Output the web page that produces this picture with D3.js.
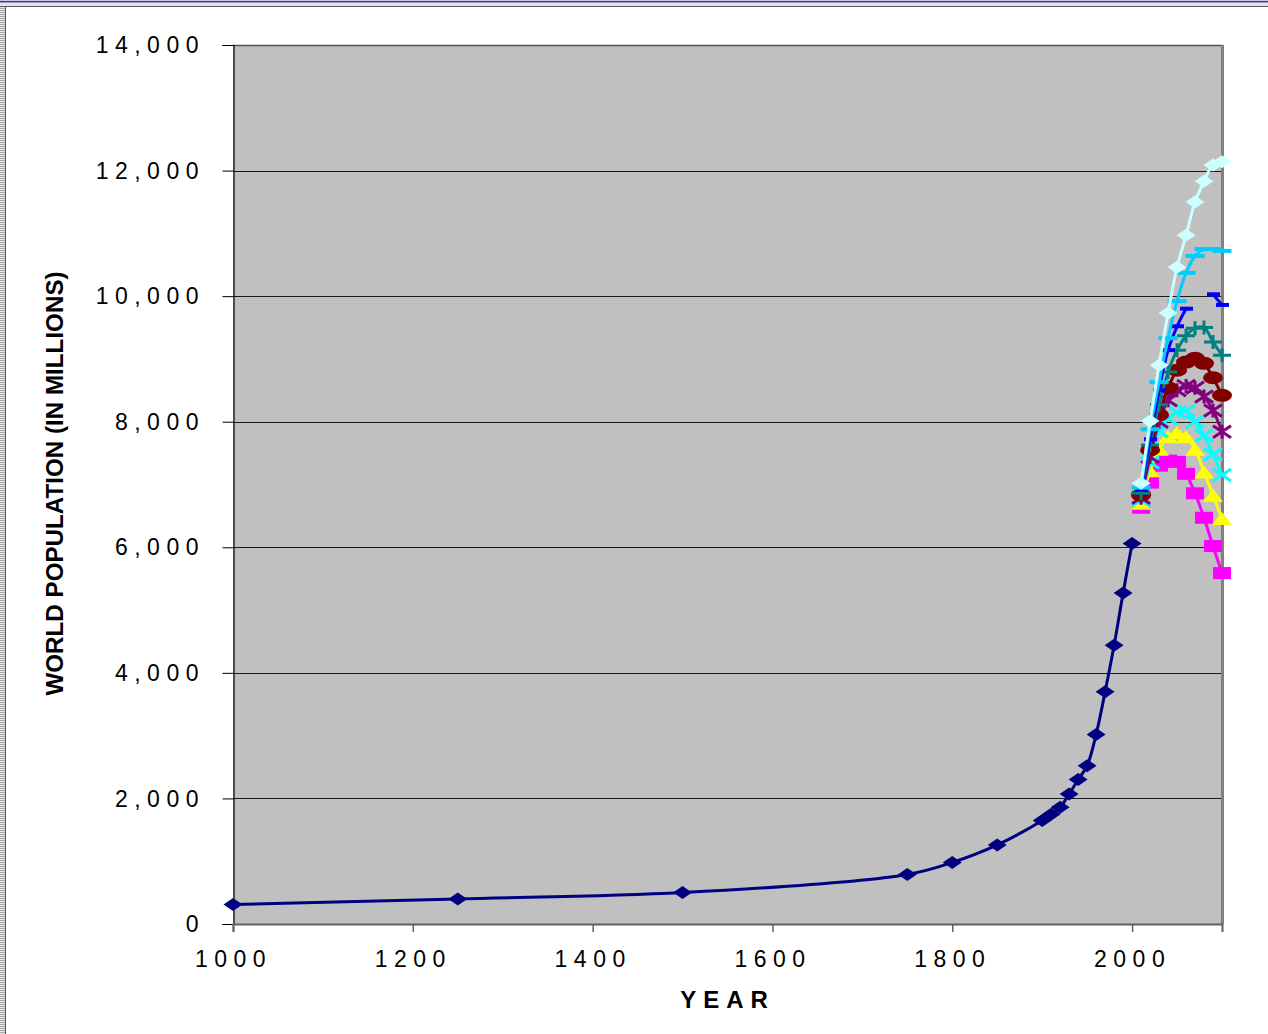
<!DOCTYPE html>
<html>
<head>
<meta charset="utf-8">
<script src="https://cdn.jsdelivr.net/npm/d3@7"></script>
<style>
  html, body { margin: 0; padding: 0; background: #ffffff; }
  svg { display: block; }
</style>
</head>
<body>
<svg id="chart" width="1268" height="1034"></svg>
<script>
// ---------- DATA ----------
const histYears = [1000, 1250, 1500, 1750, 1800, 1850, 1900, 1910, 1920, 1930, 1940, 1950, 1960, 1970, 1980, 1990, 2000];
const histPop   = [310, 400, 500, 790, 980, 1260, 1650, 1750, 1860, 2070, 2300, 2520, 3020, 3700, 4440, 5270, 6060];

const projYears = [2010, 2020, 2030, 2040, 2050, 2060, 2070, 2080, 2090, 2100];
const projMagenta   = [6630, 7030, 7300, 7380, 7360, 7170, 6860, 6470, 6020, 5590];
const projYellow    = [6700, 7220, 7560, 7760, 7830, 7760, 7560, 7200, 6830, 6460];
const projCyan      = [6750, 7350, 7850, 8050, 8150, 8170, 8000, 7780, 7480, 7150];
const projPurple    = [6790, 7440, 8000, 8340, 8500, 8570, 8540, 8400, 8180, 7840];
const projDarkRed   = [6830, 7550, 8110, 8540, 8820, 8950, 9010, 8930, 8700, 8420];
const projTeal      = [6860, 7630, 8270, 8790, 9140, 9370, 9490, 9500, 9270, 9060];
const projBlue      = [6920, 7720, 8500, 9140, 9520, 9800, null, null, 10030, 9860];
const projSkyBlue   = [6950, 7880, 8630, 9330, 9920, 10370, 10640, 10750, 10750, 10720];
const projLightCyan = [7020, 8010, 8900, 9730, 10460, 10970, 11500, 11830, 12090, 12140];

const xTicks = [1000, 1200, 1400, 1600, 1800, 2000];
const yTicks = [0, 2000, 4000, 6000, 8000, 10000, 12000, 14000];
const xTitle = "YEAR";
const yTitle = "WORLD POPULATION (IN MILLIONS)";

// ---------- SERIES (draw order) ----------
const series = [
  { years: histYears, values: histPop,        color: "#000080", marker: "diamond" },
  { years: projYears, values: projMagenta,    color: "#FF00FF", marker: "square" },
  { years: projYears, values: projYellow,     color: "#FFFF00", marker: "triangle" },
  { years: projYears, values: projCyan,       color: "#00FFFF", marker: "x" },
  { years: projYears, values: projPurple,     color: "#800080", marker: "star" },
  { years: projYears, values: projDarkRed,    color: "#800000", marker: "circle" },
  { years: projYears, values: projTeal,       color: "#008080", marker: "plus" },
  { years: projYears, values: projBlue,       color: "#0000FF", marker: "dash" },
  { years: projYears, values: projSkyBlue,    color: "#00CCFF", marker: "longbar" },
  { years: projYears, values: projLightCyan,  color: "#CCFFFF", marker: "diamond" }
];

// ---------- LAYOUT ----------
const svg = d3.select("#chart");
const W = 1268, H = 1034;
const plot = { left: 233, right: 1222, top: 45, bottom: 924 };

const x = d3.scaleLinear().domain([1000, 2100]).range([plot.left, plot.right]);
const y = d3.scaleLinear().domain([0, 14000]).range([plot.bottom, plot.top]);

const FONT = "'Liberation Sans', Arial, Helvetica, sans-serif";

// window frame (top and left)
const defs = svg.append("defs");
const pat = defs.append("pattern").attr("id", "stripes").attr("width", 6).attr("height", 2)
  .attr("patternUnits", "userSpaceOnUse");
pat.append("rect").attr("width", 6).attr("height", 2).attr("fill", "#e6e6e6");
pat.append("rect").attr("width", 6).attr("height", 1).attr("fill", "#a8a8a8");

svg.append("rect").attr("x", 0).attr("y", 0).attr("width", 5).attr("height", H).attr("fill", "url(#stripes)");
svg.append("rect").attr("x", 0).attr("y", 0).attr("width", W).attr("height", 7).attr("fill", "#e4e4e8");
svg.append("rect").attr("x", 0).attr("y", 0).attr("width", W).attr("height", 1).attr("fill", "#c8c8e6");
svg.append("rect").attr("x", 0).attr("y", 1).attr("width", W).attr("height", 1.4).attr("fill", "#3434a8");
svg.append("line").attr("x1", 0).attr("x2", W).attr("y1", 6.5).attr("y2", 6.5).attr("stroke", "#5a5a5a").attr("stroke-width", 1);
svg.append("line").attr("x1", 5.5).attr("x2", 5.5).attr("y1", 6).attr("y2", H).attr("stroke", "#5a5a5a").attr("stroke-width", 1);

// plot background
svg.append("rect")
  .attr("x", plot.left).attr("y", plot.top)
  .attr("width", plot.right - plot.left).attr("height", plot.bottom - plot.top)
  .attr("fill", "#C0C0C0");

// gridlines
svg.append("g").selectAll("line").data(yTicks.filter(d => d > 0 && d < 14000)).join("line")
  .attr("x1", plot.left).attr("x2", plot.right)
  .attr("y1", d => Math.round(y(d)) + 0.5).attr("y2", d => Math.round(y(d)) + 0.5)
  .attr("stroke", "#1a1a1a").attr("stroke-width", 1);

// plot border (top, right)
svg.append("line").attr("x1", plot.left).attr("x2", plot.right + 1.5)
  .attr("y1", plot.top + 0.5).attr("y2", plot.top + 0.5).attr("stroke", "#505050").attr("stroke-width", 1.5);
svg.append("line").attr("x1", plot.right + 0.5).attr("x2", plot.right + 0.5)
  .attr("y1", plot.top).attr("y2", plot.bottom).attr("stroke", "#808080").attr("stroke-width", 3);

// ---------- AXES ----------
const LS = 6.5;
const yAxis = d3.axisLeft(y).tickValues(yTicks).tickSize(11).tickFormat(d3.format(","));
const gy = svg.append("g").attr("transform", `translate(${plot.left + 0.5},0)`).call(yAxis);
gy.attr("font-family", FONT);
gy.select(".domain").attr("stroke", "#000").attr("stroke-width", 1.2);
gy.selectAll(".tick line").attr("stroke", "#000").attr("stroke-width", 1);
gy.selectAll(".tick text")
  .attr("x", -(233 - 200) + 4.5).attr("dy", "0.33em")
  .attr("font-family", FONT).attr("font-size", 23).attr("fill", "#000")
  .attr("letter-spacing", LS);

const xAxis = d3.axisBottom(x).tickValues(xTicks).tickSize(8).tickFormat(d3.format("d"));
const gx = svg.append("g").attr("transform", `translate(0,${plot.bottom})`).call(xAxis);
gx.attr("font-family", FONT);
gx.select(".domain").attr("stroke", "#606060").attr("stroke-width", 2);
gx.selectAll(".tick line").attr("stroke", "#606060").attr("stroke-width", 1.5);
gx.selectAll(".tick text")
  .attr("y", 43).attr("dy", 0).attr("dx", 0)
  .attr("font-family", FONT).attr("font-size", 23).attr("fill", "#000")
  .attr("letter-spacing", LS);

// titles
svg.append("text")
  .attr("x", (plot.left + plot.right) / 2).attr("y", 1008)
  .attr("text-anchor", "middle")
  .attr("font-family", FONT).attr("font-size", 24).attr("font-weight", "bold")
  .attr("letter-spacing", 7).attr("fill", "#000")
  .text(xTitle);

svg.append("text")
  .attr("transform", `translate(63,${(plot.top + plot.bottom) / 2 - 1}) rotate(-90)`)
  .attr("text-anchor", "middle")
  .attr("font-family", FONT).attr("font-size", 24.2).attr("font-weight", "bold")
  .attr("fill", "#000")
  .text(yTitle);

// ---------- SERIES ----------
const line = d3.line()
  .defined(d => d.v != null)
  .x(d => x(d.yr)).y(d => y(d.v))
  .curve(d3.curveCatmullRom.alpha(0.5));

function drawMarker(g, px, py, type, color) {
  const hw = 9.5, hh = 6.5;
  switch (type) {
    case "diamond":
      g.append("path").attr("d", `M${px - hw},${py}L${px},${py - hh}L${px + hw},${py}L${px},${py + hh}Z`)
        .attr("fill", color);
      break;
    case "square":
      g.append("rect").attr("x", px - 9).attr("y", py - 6).attr("width", 18).attr("height", 12).attr("fill", color);
      break;
    case "triangle":
      g.append("path").attr("d", `M${px - 10},${py + 6.5}L${px},${py - 6.5}L${px + 10},${py + 6.5}Z`).attr("fill", color);
      break;
    case "circle":
      g.append("ellipse").attr("cx", px).attr("cy", py).attr("rx", 10).attr("ry", 6.5).attr("fill", color);
      break;
    case "x":
      g.append("path").attr("d", `M${px - 9},${py - 6}L${px + 9},${py + 6}M${px - 9},${py + 6}L${px + 9},${py - 6}`)
        .attr("stroke", color).attr("stroke-width", 3).attr("fill", "none");
      break;
    case "star":
      g.append("path").attr("d", `M${px - 9},${py - 6}L${px + 9},${py + 6}M${px - 9},${py + 6}L${px + 9},${py - 6}M${px},${py - 7}L${px},${py + 7}`)
        .attr("stroke", color).attr("stroke-width", 3).attr("fill", "none");
      break;
    case "plus":
      g.append("path").attr("d", `M${px - 9},${py}L${px + 9},${py}M${px},${py - 7}L${px},${py + 7}`)
        .attr("stroke", color).attr("stroke-width", 3).attr("fill", "none");
      break;
    case "dash":
      g.append("rect").attr("x", px - 6).attr("y", py - 2).attr("width", 13).attr("height", 4).attr("fill", color);
      break;
    case "longbar":
      g.append("rect").attr("x", px - 9.5).attr("y", py - 2).attr("width", 19).attr("height", 4).attr("fill", color);
      break;
  }
}

const gSeries = svg.append("g");
series.forEach(s => {
  const pts = s.years.map((yr, i) => ({ yr, v: s.values[i] }));
  const g = gSeries.append("g");
  g.append("path").datum(pts).attr("d", line)
    .attr("fill", "none").attr("stroke", s.color).attr("stroke-width", 3).attr("stroke-linejoin", "round");
  pts.filter(d => d.v != null).forEach(d => drawMarker(g, x(d.yr), y(d.v), s.marker, s.color));
});
</script>
</body>
</html>
